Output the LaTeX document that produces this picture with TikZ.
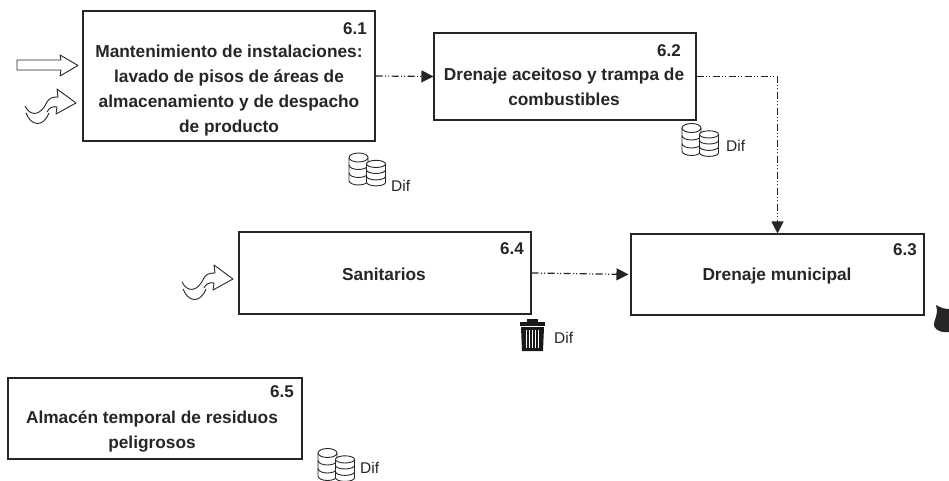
\documentclass[tikz,border=0pt]{standalone}
\usepackage{fontspec}
\setmainfont{Liberation Sans}
\usetikzlibrary{arrows.meta}
\tikzset{
  x=1pt,y=-1pt,
  procbox/.style={draw=black!85,line width=1.1pt,fill=white,inner sep=0pt},
  boxtext/.style={font=\fontsize{17.3}{25}\selectfont\bfseries,align=center,text=black!85,inner sep=0pt},
  numtext/.style={font=\fontsize{17}{18}\selectfont\bfseries,text=black!85,anchor=north east,inner sep=0pt},
  diftext/.style={font=\fontsize{15.5}{17}\selectfont,text=black!85,anchor=west,inner sep=0pt},
  flow/.style={draw=black!85,line width=1.2pt,dash pattern=on 7pt off 2.5pt on 1pt off 2pt on 1pt off 2.5pt,-{Triangle[length=12pt,width=12pt]}},
  iconline/.style={draw=black!85,line width=.9pt,fill=white,line join=round},
  pics/disc/.style={code={
    \draw[iconline] (-9.5,-12) -- (-9.5,11) arc[start angle=180,end angle=360,x radius=9.5,y radius=-4.5] -- (9.5,-12);
    \draw[iconline,fill=none] (-9.5,-4.5) arc[start angle=180,end angle=360,x radius=9.5,y radius=-4.5];
    \draw[iconline,fill=none] (-9.5,3.5) arc[start angle=180,end angle=360,x radius=9.5,y radius=-4.5];
    \draw[iconline] (0,-12) ellipse[x radius=9.5,y radius=4.5];
  }},
  pics/stack/.style={code={
    \pic at (0,0) {disc};
    \pic at (17.5,4) [yscale=.8] {disc};
  }},
  pics/waveflow/.style={code={
    \draw[iconline,fill=none] (0,0) .. controls (5,10) and (15,11) .. (22,-4) .. controls (24,-8) and (28,-9) .. (33,-9)
      -- (32,-17) -- (51,-3) -- (31,8) -- (32,1) .. controls (27,0) and (24,2) .. (22,6);
    \draw[iconline,fill=none] (1,7) .. controls (6,20) and (18,22) .. (24,7);
  }},
  pics/bin/.style={code={
    \fill[black!90] (-11,-13) rectangle (14,-9);
    \fill[black!90] (-4,-16) rectangle (7,-13);
    \fill[black!90] (-10,-8) -- (13,-8) -- (12,16) -- (-9,16) -- cycle;
    \foreach \u in {-4.5,-1.5,1.5,4.5,7.5}{\draw[white,line width=.6pt] (\u,-5) -- (\u,13);}
  }}
}
\begin{document}
\begin{tikzpicture}
\useasboundingbox (0,0) rectangle (949,481);
\fill[white] (0,0) rectangle (949,481);

% boxes
\node[procbox,minimum width=292pt,minimum height=130pt] (b1) at (229,76) {};
\node[procbox,minimum width=262pt,minimum height=87pt] (b2) at (565,76.5) {};
\node[procbox,minimum width=293pt,minimum height=81pt] (b3) at (777.5,274.5) {};
\node[procbox,minimum width=292pt,minimum height=82pt] (b4) at (385,273) {};
\node[procbox,minimum width=294pt,minimum height=81pt] (b5) at (155,418.5) {};

% texts
\node[boxtext] (t1) at (229,91) {Mantenimiento de instalaciones:\\lavado de pisos de áreas de\\almacenamiento y de despacho\\de producto};
\node[boxtext] (t2) at (564,87) {Drenaje aceitoso y trampa de\\combustibles};
\node[boxtext] (t3) at (777,276) {Drenaje municipal};
\node[boxtext] (t4) at (384,274) {Sanitarios};
\node[boxtext] (t5) at (152,431) {Almacén temporal de residuos\\peligrosos};
\node[numtext] (n1) at (367,22) {6.1};
\node[numtext] (n2) at (681,44) {6.2};
\node[numtext] (n3) at (917,243) {6.3};
\node[numtext] (n4) at (524,242) {6.4};
\node[numtext] (n5) at (294,385) {6.5};

% connectors
\draw[flow] (b1.east) -- (b2.west);
\draw[flow] (b2.east) -| (b3.north);
\draw[flow,shorten >=2pt] (b4.east) -- (b3.west);

% input arrows
\draw[iconline] (17,60) -- (61,60) -- (60,55) -- (78,65.5) -- (60,76) -- (61,70) -- (17,70) -- cycle;
\pic at (25,106) {waveflow};
\pic at (182,282) {waveflow};

% flame
\fill[black!85] (936,305) .. controls (941,308) and (945,309) .. (949,309) -- (949,332) .. controls (943,333) and (936,331) .. (934,326) .. controls (933,320) and (939,316) .. (936,305) -- cycle;

% waste icons
\pic at (358.5,169.5) {stack};
\pic at (691.5,140) {stack};
\pic at (327.5,465) {stack};
\pic at (531,335) {bin};
\node[diftext] (d1) at (391,186) {Dif};
\node[diftext] (d2) at (726,146) {Dif};
\node[diftext] (d3) at (554,338) {Dif};
\node[diftext] (d4) at (360,468) {Dif};
\end{tikzpicture}
\end{document}
